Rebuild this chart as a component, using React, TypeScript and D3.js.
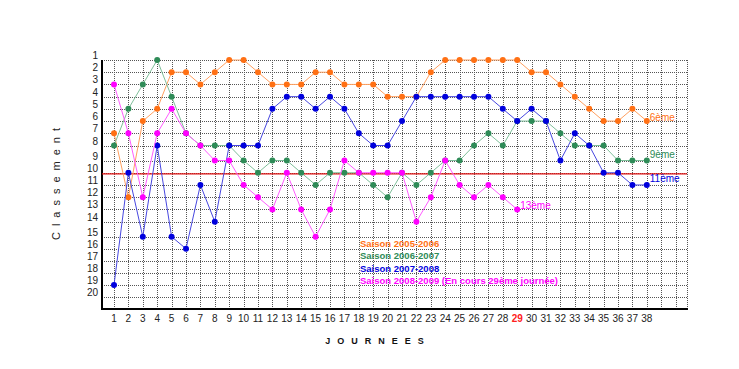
import { useRef, useEffect } from "react";
import * as d3 from "d3";

// classement par journee, une liste par saison
const journees = d3.range(1, 39);
const saison0506 = [7, 12, 6, 5, 2, 2, 3, 2, 1, 1, 2, 3, 3, 3, 2, 2, 3, 3, 3, 4, 4, 4, 2, 1, 1, 1, 1, 1, 1, 2, 2, 3, 4, 5, 6, 6, 5, 6];
const saison0607 = [8, 5, 3, 1, 4, 7, 8, 8, 8, 9, 10, 9, 9, 10, 11, 10, 10, 10, 11, 12, 10, 11, 10, 9, 9, 8, 7, 8, 6, 6, 6, 7, 8, 8, 8, 9, 9, 9];
const saison0708 = [19, 10, 15, 8, 15, 16, 11, 14, 8, 8, 8, 5, 4, 4, 5, 4, 5, 7, 8, 8, 6, 4, 4, 4, 4, 4, 4, 5, 6, 5, 6, 9, 7, 8, 10, 10, 11, 11];
const saison0809 = [3, 7, 12, 7, 5, 7, 8, 9, 9, 11, 12, 13, 10, 13, 15, 13, 9, 10, 10, 10, 10, 14, 12, 9, 11, 12, 11, 12, 13];

const rangs = d3.range(1, 21);
const legendes = [
  "Saison 2005-2006",
  "Saison 2006-2007",
  "Saison 2007-2008",
  "Saison 2008-2009 (En cours 29ème journée)",
];
const finLabels = ["6ème", "9ème", "11ème", "13ème"];
const journeeEnCours = 29;

const series = [
  { values: saison0506, dot: "#ff7014", line: "#ffa060" },
  { values: saison0607, dot: "#2e8b57", line: "#7fbf9a" },
  { values: saison0708, dot: "#0000dd", line: "#4848e0" },
  { values: saison0809, dot: "#ff00ff", line: "#ff5cff" },
];

export default function App() {
  const svgRef = useRef<SVGSVGElement>(null);

  useEffect(() => {
    document.body.style.margin = "0";
    if (!svgRef.current) return;
    const svg = d3.select(svgRef.current);
    svg.selectAll("*").remove();

    const font = "Arial, 'Liberation Sans', sans-serif";
    const x = d3.scaleLinear().domain([0, 40]).range([99.6, 675.6]);
    // the original rows are not all the same height
    const y = d3
      .scaleLinear()
      .domain([1, 8, 9, 14, 15, 21])
      .range([60, 145.5, 160.5, 221.7, 236.7, 309]);
    const left = 102;
    const right = 687;

    const grid = svg.append("g").attr("stroke", "#555").attr("stroke-dasharray", "1,1").attr("stroke-width", 1);
    grid
      .selectAll(".h")
      .data(rangs)
      .enter()
      .append("line")
      .attr("x1", left)
      .attr("x2", right)
      .attr("y1", (d) => Math.round(y(d)) + 0.5)
      .attr("y2", (d) => Math.round(y(d)) + 0.5);
    grid
      .selectAll(".v")
      .data(d3.range(1, 41))
      .enter()
      .append("line")
      .attr("x1", (d) => Math.round(x(d)) + 0.5)
      .attr("x2", (d) => Math.round(x(d)) + 0.5)
      .attr("y1", y(1))
      .attr("y2", y(21));
    grid
      .append("line")
      .attr("x1", right + 0.5)
      .attr("x2", right + 0.5)
      .attr("y1", y(1))
      .attr("y2", y(21));

    // axes
    svg
      .append("line")
      .attr("x1", left)
      .attr("x2", left)
      .attr("y1", y(1))
      .attr("y2", y(21) + 1)
      .attr("stroke", "#000")
      .attr("stroke-width", 2);
    svg
      .append("line")
      .attr("x1", left)
      .attr("x2", right + 1)
      .attr("y1", y(21))
      .attr("y2", y(21))
      .attr("stroke", "#000")
      .attr("stroke-width", 2);

    svg
      .selectAll(".ylab")
      .data(rangs)
      .enter()
      .append("text")
      .attr("x", 98)
      .attr("y", (d) => y(d) - 1)
      .attr("text-anchor", "end")
      .attr("font-family", font)
      .attr("font-size", 10)
      .attr("fill", "#222")
      .text((d) => d);

    svg
      .selectAll(".xlab")
      .data(journees)
      .enter()
      .append("text")
      .attr("x", (d) => x(d))
      .attr("y", 322)
      .attr("text-anchor", "middle")
      .attr("font-family", font)
      .attr("font-size", 10)
      .attr("font-weight", (d) => (d === journeeEnCours ? "bold" : "normal"))
      .attr("fill", (d) => (d === journeeEnCours ? "#ff2020" : "#222"))
      .text((d) => d);

    svg
      .append("text")
      .attr("transform", `translate(60,181) rotate(-90)`)
      .attr("text-anchor", "middle")
      .attr("font-family", font)
      .attr("font-size", 11)
      .attr("letter-spacing", 6)
      .attr("fill", "#222")
      .text("Classement");

    svg
      .append("text")
      .attr("x", 378)
      .attr("y", 344)
      .attr("text-anchor", "middle")
      .attr("font-family", font)
      .attr("font-size", 9)
      .attr("font-weight", "bold")
      .attr("letter-spacing", 7)
      .attr("fill", "#111")
      .text("JOURNEES");

    // ligne rouge
    svg
      .append("line")
      .attr("x1", left)
      .attr("x2", right)
      .attr("y1", y(10.1))
      .attr("y2", y(10.1))
      .attr("stroke", "#e01010")
      .attr("stroke-width", 1.2);

    const line = d3
      .line<number>()
      .x((_, i) => x(i + 1))
      .y((d) => y(d));

    series.forEach((s) => {
      const g = svg.append("g");
      g.append("path")
        .attr("d", line(s.values))
        .attr("fill", "none")
        .attr("stroke", s.line)
        .attr("stroke-width", 1);
      g.selectAll("circle")
        .data(s.values)
        .enter()
        .append("circle")
        .attr("cx", (_, i) => x(i + 1))
        .attr("cy", (d) => y(d))
        .attr("r", 3)
        .attr("fill", s.dot);
    });

    // etiquettes de fin
    series.forEach((s, i) => {
      const n = s.values.length;
      svg
        .append("text")
        .attr("x", x(n) + 3)
        .attr("y", y(s.values[n - 1]) + (i === 0 ? 0 : i === 3 ? 0 : -3))
        .attr("font-family", font)
        .attr("font-size", 10)
        .attr("fill", s.dot)
        .text(finLabels[i]);
    });

    svg
      .selectAll(".leg")
      .data(legendes)
      .enter()
      .append("text")
      .attr("x", 360)
      .attr("y", (_, i) => 247 + i * 12.3)
      .attr("font-family", font)
      .attr("font-size", 9.5)
      .attr("font-weight", "bold")
      .attr("fill", (_, i) => series[i].dot)
      .text((d) => d);
  }, []);

  return <svg ref={svgRef} width={739} height={369} style={{ display: "block", background: "#fff" }} />;
}
